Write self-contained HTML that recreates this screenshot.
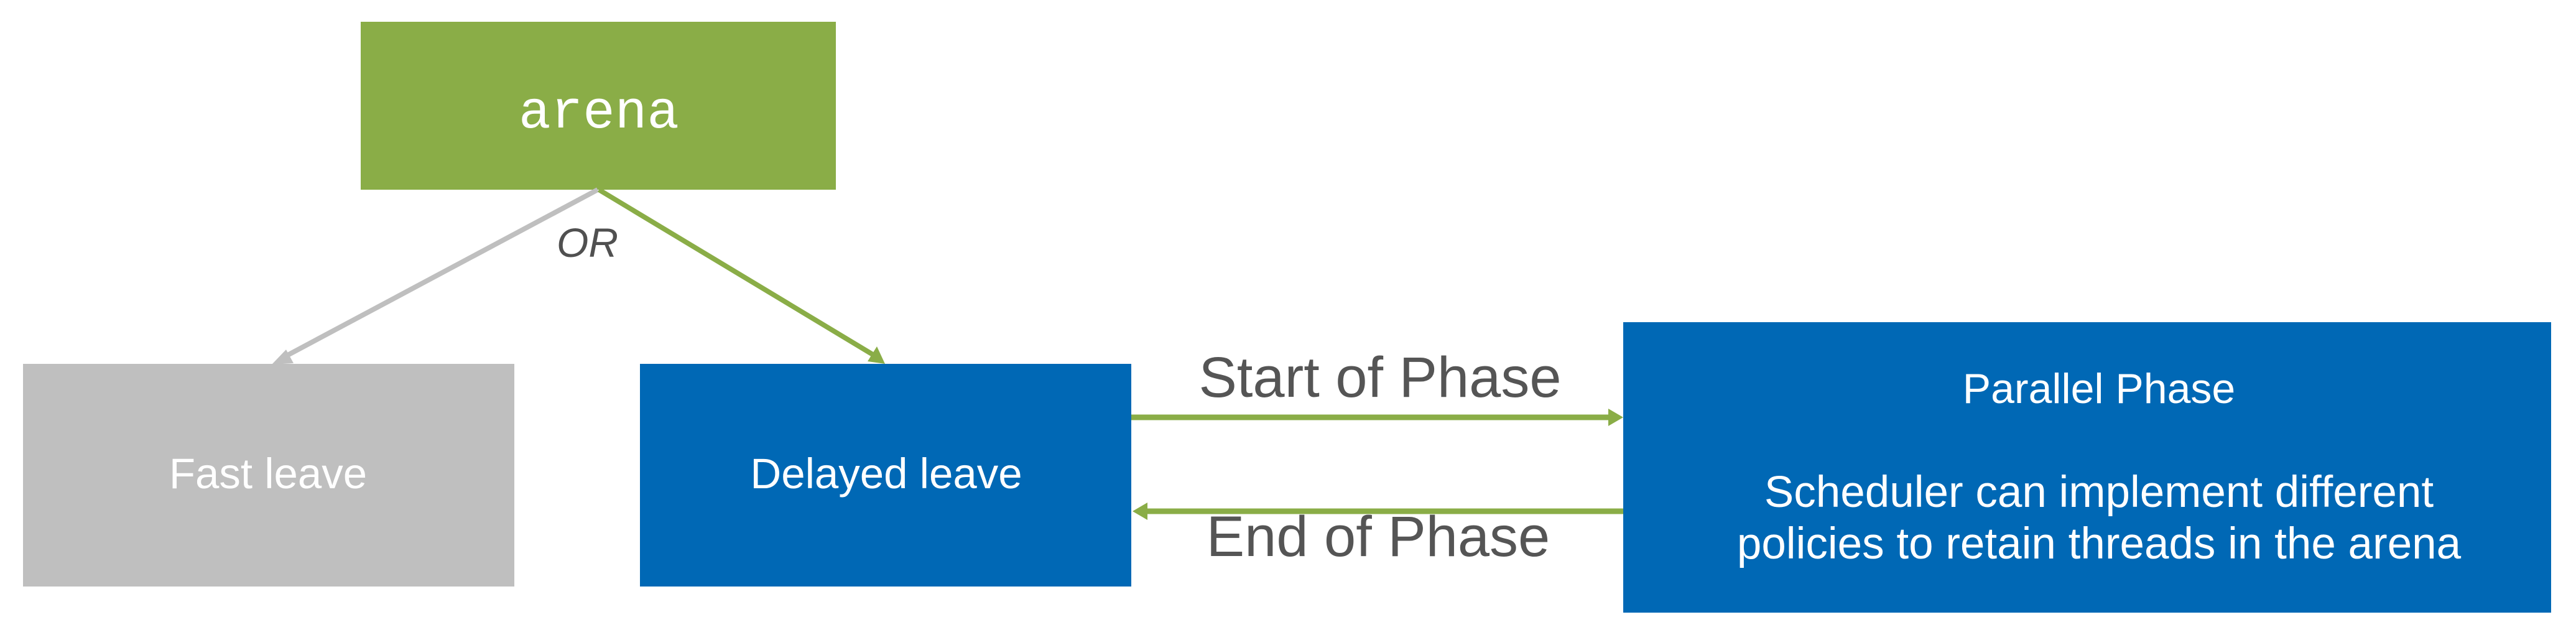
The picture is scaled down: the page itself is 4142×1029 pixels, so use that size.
<!DOCTYPE html>
<html><head><meta charset="utf-8"><style>
html,body{margin:0;padding:0;background:#fff;width:4142px;height:1029px;overflow:hidden}
</style></head><body>
<svg width="4142" height="1029" viewBox="0 0 4142 1029" xmlns="http://www.w3.org/2000/svg" font-family="'Liberation Sans', sans-serif">
<rect x="580" y="35" width="764" height="270" fill="#8aad47"/>
<text x="963" y="205" font-family="'Liberation Mono', monospace" font-size="86" fill="#fff" text-anchor="middle">arena</text>
<rect x="37" y="585" width="790" height="358" fill="#bfbfbf"/>
<text x="431" y="785" font-size="69" fill="#fff" text-anchor="middle">Fast leave</text>
<rect x="1029" y="585" width="790" height="358" fill="#0068b5"/>
<text x="1425" y="785" font-size="69" fill="#fff" text-anchor="middle">Delayed leave</text>
<rect x="2610" y="518" width="1492" height="467" fill="#0068b5"/>
<text x="3375" y="648" font-size="68" fill="#fff" text-anchor="middle">Parallel Phase</text>
<text x="3375" y="815" font-size="71" fill="#fff" text-anchor="middle">Scheduler can implement different</text>
<text x="3375" y="898" font-size="71" fill="#fff" text-anchor="middle">policies to retain threads in the arena</text>
<line x1="961" y1="305" x2="455" y2="575" stroke="#bfbfbf" stroke-width="8"/>
<polygon points="437,586 460,562 472,584" fill="#bfbfbf"/>
<line x1="963" y1="305" x2="1410" y2="574" stroke="#8aad47" stroke-width="8"/>
<polygon points="1423,585 1395,581 1410,557" fill="#8aad47"/>
<text x="895" y="413" font-size="66" font-style="italic" fill="#505050">OR</text>
<line x1="1819" y1="671" x2="2588" y2="671" stroke="#8aad47" stroke-width="9"/>
<polygon points="2610,671 2586,657 2586,685" fill="#8aad47"/>
<line x1="1842" y1="822" x2="2610" y2="822" stroke="#8aad47" stroke-width="9"/>
<polygon points="1821,822 1845,808 1845,836" fill="#8aad47"/>
<text x="2219" y="638" font-size="92" fill="#555" text-anchor="middle">Start of Phase</text>
<text x="2216" y="894" font-size="92" fill="#555" text-anchor="middle">End of Phase</text>
</svg>
</body></html>
